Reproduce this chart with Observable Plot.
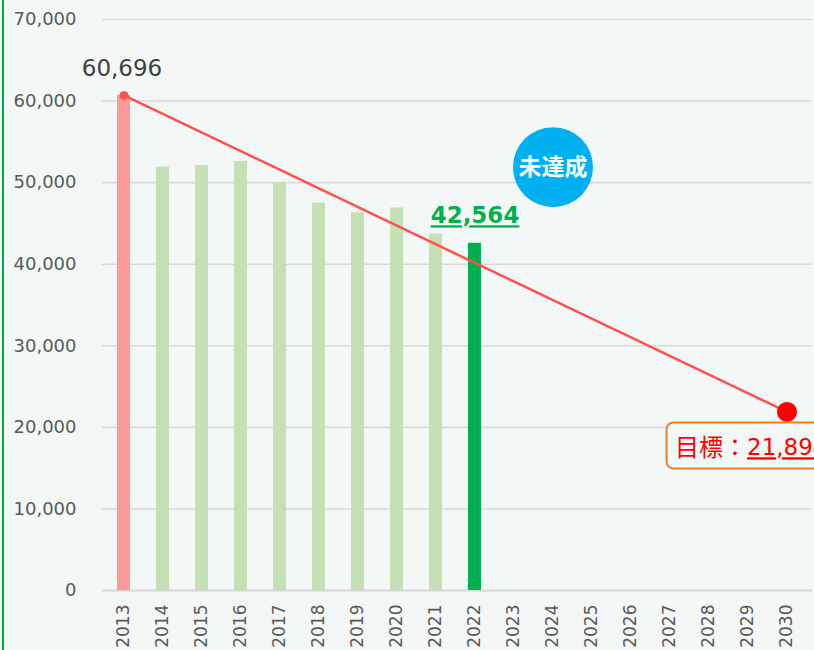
<!DOCTYPE html>
<html><head><meta charset="utf-8">
<script src="https://cdn.jsdelivr.net/npm/d3@7"></script>
<script src="https://cdn.jsdelivr.net/npm/@observablehq/plot@0.6"></script>
<style>
html,body{margin:0;padding:0;background:#F3F8F6;}
#chart{position:relative;width:814px;height:650px;overflow:hidden;background:#F3F8F6;}
#chart::before{content:"";position:absolute;left:2px;top:0;width:2px;height:650px;background:#00A550;z-index:2;}
#chart svg{display:block;}
</style></head><body><div id="chart"></div>
<script>
// ---- data ----
const years = ["2013","2014","2015","2016","2017","2018","2019","2020","2021","2022","2023","2024","2025","2026","2027","2028","2029","2030"];
const emissionYears = ["2013","2014","2015","2016","2017","2018","2019","2020","2021","2022"];
const emissions = [60696, 51900, 52100, 52600, 50000, 47500, 46300, 46900, 43700, 42564];
const barKinds = ["base","past","past","past","past","past","past","past","past","latest"];
const targetYears = ["2013","2030"];
const targetValues = [60696, 21894];
const yTicks = [0,10000,20000,30000,40000,50000,60000,70000];
const statusText = ["未達成"];
const statusYear = ["2024"];
const statusValue = [51900];
const targetPrefix = "目標：";

const fmt = d3.format(",");
const bars = emissionYears.map((y,i)=>({year:y, value:emissions[i], kind:barKinds[i]}));
const line = targetYears.map((y,i)=>({year:y, value:targetValues[i]}));
const status = statusText.map((t,i)=>({year:statusYear[i], value:statusValue[i], text:t}));

const plot = Plot.plot({
  width: 814, height: 650,
  marginTop: 19, marginBottom: 60, marginLeft: 102, marginRight: 7,
  style: {background: "transparent", fontFamily: "'DejaVu Sans', sans-serif", overflow: "visible"},
  x: {domain: years, paddingInner: 0.67, paddingOuter: 0.335, label: null},
  y: {domain: [0, 70000], label: null},
  color: {domain: ["base","past","latest"], range: ["#FF9999","#C5E0B4","#00B050"]},
  marks: [
    Plot.gridY(yTicks, {stroke: "#d9d9d9", strokeOpacity: 1, strokeWidth: 1.6, insetRight: -5}),
    Plot.axisY(yTicks, {tickSize: 0, tickPadding: 26, tickFormat: fmt, fontSize: 18, fill: "#595959", label: null}),
    Plot.axisX({tickSize: 0, tickRotate: -90, tickPadding: 14, fontSize: 17, fill: "#595959", label: null}),
    Plot.ruleY([0], {stroke: "#d9d9d9", strokeWidth: 2, insetRight: -5}),
    Plot.barY(bars, {x: "year", y: "value", fill: "kind"}),
    Plot.line(line, {x: "year", y: "value", stroke: "#FF5050", strokeWidth: 2.5}),
    Plot.dot([line[0]], {x: "year", y: "value", r: 4.5, fill: "#FF5050"}),
    Plot.dot([line[1]], {x: "year", y: "value", r: 10, fill: "#FF0000"}),
    Plot.text([line[0]], {x: "year", y: "value", text: d => fmt(d.value), lineAnchor: "bottom", dy: -19, dx: -2, fontSize: 23, fill: "#404040"}),
    Plot.text([bars[bars.length-1]], {x: "year", y: "value", text: d => fmt(d.value), lineAnchor: "bottom", dy: -20, fontSize: 23, fontWeight: "bold", fill: "#00B050", ariaDescription: "latest-label"}),
    Plot.dot(status, {x: "year", y: "value", r: 40, fill: "#00B0F0"}),
    Plot.text(status, {x: "year", y: "value", text: "text", fontSize: 23, fontWeight: "bold", fill: "white", fontFamily: "'Noto Sans CJK JP', sans-serif"}),
    Plot.text([line[1]], {x: "year", y: "value", text: () => targetPrefix, textAnchor: "end", dx: -40, dy: 36, fontSize: 24, fill: "#FF0000", fontFamily: "'Noto Sans CJK JP', sans-serif", ariaDescription: "target-prefix"}),
    Plot.text([line[1]], {x: "year", y: "value", text: d => fmt(d.value), textAnchor: "start", dx: -40, dy: 36, fontSize: 23, fill: "#FF0000", ariaDescription: "target-number"})
  ]
});

document.getElementById("chart").appendChild(plot);

// underline styling
d3.select(plot).selectAll('g[aria-description="latest-label"] text, g[aria-description="target-number"] text')
  .style("text-decoration", "underline");

// annotation box around target label, positioned from the scales
const xs = plot.scale("x"), ys = plot.scale("y");
const cx = xs.apply("2030") + xs.bandwidth / 2;
const cy = ys.apply(targetValues[1]);
const prefixG = plot.querySelector('g[aria-description="target-prefix"]');
if (prefixG) {
  d3.select(prefixG.parentNode).insert("rect", 'g[aria-description="target-prefix"]')
    .attr("x", cx - 120).attr("y", cy + 11).attr("width", 220).attr("height", 46)
    .attr("rx", 7).attr("fill", "#F3F8F6").attr("stroke", "#ED7D31").attr("stroke-width", 2);
}
</script>
</body></html>
